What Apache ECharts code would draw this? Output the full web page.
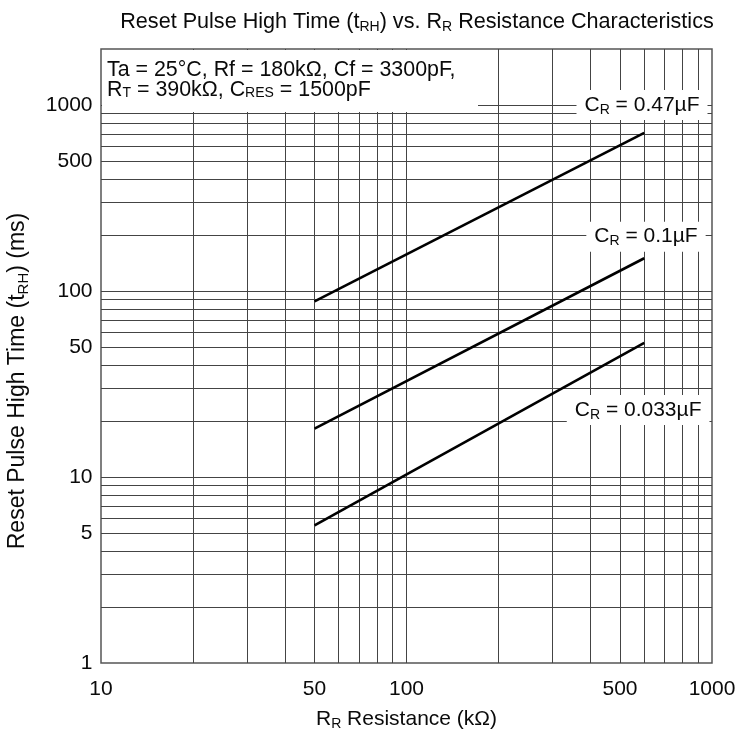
<!DOCTYPE html>
<html><head><meta charset="utf-8">
<script src="https://cdn.jsdelivr.net/npm/echarts@6/dist/echarts.min.js"></script>
<style>html,body{margin:0;padding:0;background:#fff}#c{width:741px;height:736px}</style>
</head><body><div id="c"></div><script>
// ---- data ----
const xGridValues = [20,30,40,50,60,70,80,90,100,200,300,400,500,600,700,800,900];
const yGridValues = [2,3,4,5,6,7,8,9,10,20,30,40,50,60,70,80,90,100,200,300,400,500,600,700,800,900,1000];
const xTickLabels = [10,50,100,500,1000];
const yTickLabels = [1,5,10,50,100,500,1000];
const resistance = [50, 600];               // kΩ
const tRH_C047 = [88, 708];                 // ms, C_R = 0.47µF
const tRH_C01 = [18.2, 150];                // ms, C_R = 0.1µF
const tRH_C0033 = [5.5, 52.6];              // ms, C_R = 0.033µF
const curveNames = ['0.47µF', '0.1µF', '0.033µF'];
const curveLabelX = [590, 608, 573];
const curveLabelY = [1000, 196, 22.9];
const xMin = 10, xMax = 1000, yMin = 1, yMax = 2000;

const FONT = 'Liberation Sans, Arial, sans-serif';
const FS = 21;
const TXT = '#0a0a0a';
const subStyle = (lh) => ({ fontSize: 14, fontFamily: FONT, color: TXT, verticalAlign: 'bottom', lineHeight: lh });

const gridLineStyle = { color: '#444', width: 1, type: 'solid' };

const chart = echarts.init(document.getElementById('c'), null, { renderer: 'canvas' });

const curveSeries = [tRH_C047, tRH_C01, tRH_C0033].map((ys, i) => ({
  name: curveNames[i], type: 'line', symbol: 'none', z: 5, silent: true,
  lineStyle: { color: '#000', width: 2.6 },
  data: resistance.map((x, j) => [x, ys[j]])
}));

const hiddenItem = { color: 'rgba(0,0,0,0)', opacity: 1 };

chart.setOption({
  animation: false,
  backgroundColor: '#fff',
  title: {
    text: 'Reset Pulse High Time (t{sub|RH}) vs. R{sub|R} Resistance Characteristics',
    left: 412, top: 5, textAlign: 'center',
    textStyle: { fontSize: 21.6, fontWeight: 'normal', color: TXT, fontFamily: FONT, lineHeight: 24,
      rich: { sub: subStyle(10) } }
  },
  grid: { left: 101, right: 29, top: 49, bottom: 72, show: true, borderColor: '#555', borderWidth: 1.5, backgroundColor: '#fff' },
  xAxis: {
    type: 'log', logBase: 10, min: xMin, max: xMax,
    name: 'R{sub|R} Resistance (kΩ)', nameLocation: 'middle', nameGap: 44,
    nameTextStyle: { fontSize: FS, color: TXT, fontFamily: FONT, lineHeight: 24, rich: { sub: subStyle(10) } },
    axisLine: { show: false }, axisTick: { show: false }, axisLabel: { show: false }, splitLine: { show: false }
  },
  yAxis: {
    type: 'log', logBase: 10, min: yMin, max: yMax,
    axisLine: { show: false }, axisTick: { show: false }, axisLabel: { show: false }, splitLine: { show: false }
  },
  series: [
    {
      name: 'grid', type: 'line', data: [], z: 1, silent: true,
      markLine: {
        silent: true, symbol: ['none', 'none'], animation: false,
        label: { show: false }, lineStyle: gridLineStyle,
        data: xGridValues.map(v => ({ xAxis: v })).concat(yGridValues.map(v => ({ yAxis: v })))
      }
    },
    ...curveSeries,
    {
      name: 'xticks', type: 'scatter', z: 6, silent: true, clip: false, symbolSize: 1,
      itemStyle: hiddenItem,
      data: xTickLabels.map(v => [v, yMin]),
      label: { show: true, position: 'bottom', distance: 15, fontSize: FS, color: TXT, fontFamily: FONT,
        formatter: p => String(p.value[0]) }
    },
    {
      name: 'yticks', type: 'scatter', z: 6, silent: true, clip: false, symbolSize: 1,
      itemStyle: hiddenItem,
      data: yTickLabels.map(v => [xMin, v]),
      label: { show: true, position: 'left', distance: 8, fontSize: FS, color: TXT, fontFamily: FONT,
        formatter: p => String(p.value[1]) }
    },
    {
      name: 'curveLabels', type: 'scatter', z: 7, silent: true, clip: false, symbolSize: 1,
      itemStyle: hiddenItem,
      data: curveNames.map((n, i) => ({ value: [curveLabelX[i], curveLabelY[i]], name: n })),
      label: { show: true, position: 'inside', fontSize: FS, color: TXT, fontFamily: FONT,
        backgroundColor: '#fff', padding: [3, 8, 3, 8], lineHeight: 24,
        formatter: p => 'C{sub|R} = ' + p.name,
        rich: { sub: subStyle(10) } }
    }
  ],
  graphic: [
    { type: 'rect', z: 50, silent: true, shape: { x: 102, y: 50, width: 376, height: 62 }, style: { fill: '#fff' } },
    { type: 'text', z: 51, silent: true, left: 107, top: 60,
      style: { text: 'Ta = 25°C, Rf = 180kΩ, Cf = 3300pF,\nR{sub|T} = 390kΩ, C{sub|RES} = 1500pF',
        font: '21.4px ' + FONT, fill: TXT, lineHeight: 20,
        rich: { sub: { fontSize: 14, fontFamily: FONT, fill: TXT, verticalAlign: 'bottom', lineHeight: 6 } } } },
    { type: 'text', z: 51, silent: true, x: 18, y: 381, rotation: Math.PI / 2,
      style: { text: 'Reset Pulse High Time (t{sub|RH}) (ms)', font: '23px ' + FONT, fill: TXT,
        align: 'center', verticalAlign: 'middle', lineHeight: 26,
        rich: { sub: { fontSize: 15, fontFamily: FONT, fill: TXT, verticalAlign: 'bottom', lineHeight: 11 } } } }
  ]
});
</script></body></html>
